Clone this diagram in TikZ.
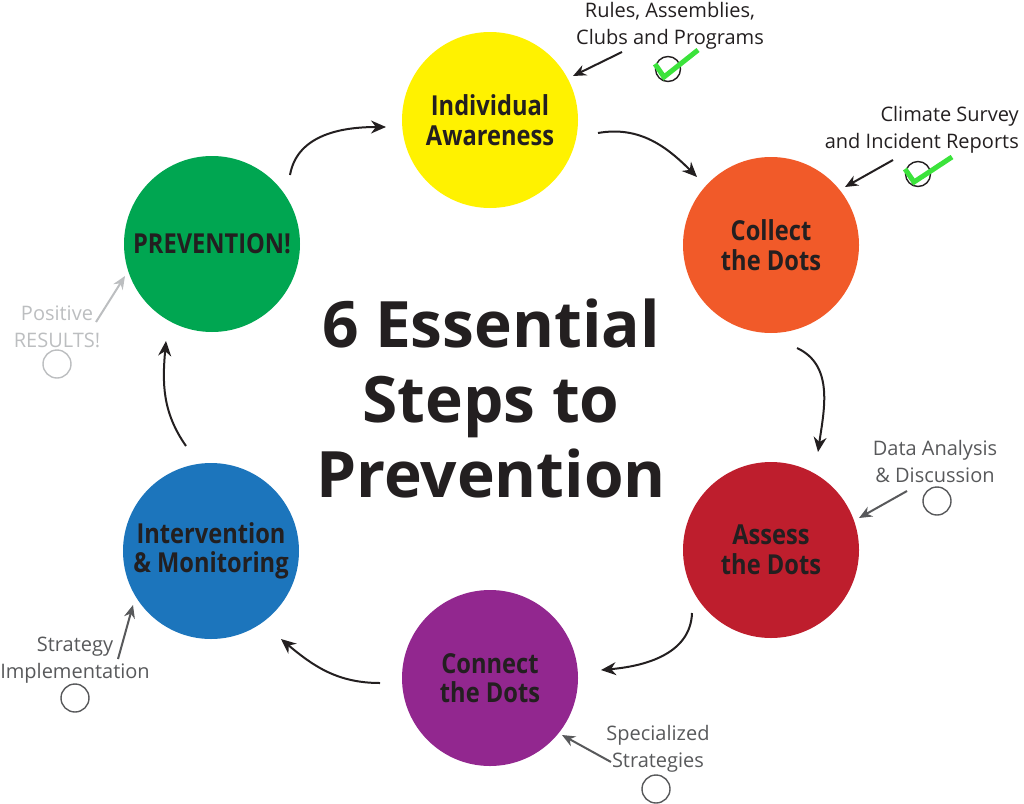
\documentclass[tikz,border=0pt]{standalone}
\usepackage{fontspec}
\setmainfont{Open Sans}
\newfontfamily\condfont{Open Sans}[FakeStretch=0.86]
\usetikzlibrary{arrows.meta}
\definecolor{ink}{HTML}{231F20}
\definecolor{cyellow}{HTML}{FFF200}
\definecolor{corange}{HTML}{F15A29}
\definecolor{cred}{HTML}{BE1E2D}
\definecolor{cpurple}{HTML}{92278F}
\definecolor{cblue}{HTML}{1C75BC}
\definecolor{cgreen}{HTML}{00A651}
\definecolor{midgray}{HTML}{58595B}
\definecolor{lightgray}{HTML}{BCBEC0}
\definecolor{checkgreen}{HTML}{3BE33B}
\tikzset{
  stepcircle/.style={circle, minimum size=176pt, inner sep=0pt, text=ink, align=center,
    font=\condfont\bfseries\fontsize{27.5}{29.5}\selectfont},
  flow/.style={draw=ink, line width=2pt, -{Stealth[length=15pt,width=13pt]}},
  note/.style={align=center, font=\fontsize{20}{27}\selectfont, inner sep=0pt},
  pointer/.style={line width=2pt, -{Stealth[length=13pt,width=11pt]}},
  ring/.style={line width=1.4pt, fill=white},
  tick/.style={draw=checkgreen, line width=5pt, line cap=butt, line join=miter}
}
\begin{document}
\begin{tikzpicture}[x=1pt,y=1pt]
\useasboundingbox (0,0) rectangle (1024,-803);
% step circles
\node[stepcircle, fill=cyellow] (aware) at (490,-120) {Individual\\Awareness};
\node[stepcircle, fill=corange] (collect) at (771,-245) {Collect\\the Dots};
\node[stepcircle, fill=cred] (assess) at (771,-550) {Assess\\the Dots};
\node[stepcircle, fill=cpurple] (connect) at (490,-678) {Connect\\the Dots};
\node[stepcircle, fill=cblue] (interv) at (211,-551) {Intervention\\\& Monitoring};
\node[stepcircle, fill=cgreen] (prev) at (212,-244) {PREVENTION!};
% title
\node[text=ink, align=center, font=\bfseries\fontsize{64}{75}\selectfont] (title) at (491,-398)
  {6 Essential\\Steps to\\Prevention};
% flow arrows
\coordinate (a1s) at (290,-175); \coordinate (a1e) at (386,-127);
\coordinate (a2s) at (598,-133); \coordinate (a2e) at (697,-177);
\coordinate (a3s) at (797,-348); \coordinate (a3e) at (818,-452);
\coordinate (a4s) at (692,-613); \coordinate (a4e) at (601,-670);
\coordinate (a5s) at (380,-683); \coordinate (a5e) at (281,-639);
\coordinate (a6s) at (186,-446); \coordinate (a6e) at (166,-341);
\draw[flow] (a1s) to[out=80,in=180] (a1e);
\draw[flow] (a2s) to[out=10,in=135] (a2e);
\draw[flow] (a3s) to[out=-25,in=82] (a3e);
\draw[flow] (a4s) to[out=-92,in=5] (a4e);
\draw[flow] (a5s) to[out=180,in=-40] (a5e);
\draw[flow] (a6s) to[out=125,in=-95] (a6e);
% annotations
\node[note, text=ink] (rules) at (670,-26) {Rules, Assemblies,\\Clubs and Programs};
\node[note, text=ink, align=right, anchor=east] (climate) at (1019,-130) {Climate Survey\\and Incident Reports};
\node[note, text=midgray] (data) at (935,-461) {Data Analysis\\\& Discussion};
\node[note, text=midgray] (special) at (658,-749) {Specialized\\Strategies};
\node[note, text=midgray] (strat) at (75,-660) {Strategy\\Implementation};
\node[note, text=lightgray] (posit) at (57,-327) {Positive\\RESULTS!};
% pointer arrows
\coordinate (p1s) at (622,-52); \coordinate (p1e) at (573,-76);
\coordinate (p2s) at (893,-160); \coordinate (p2e) at (845,-187);
\coordinate (p3s) at (907,-491); \coordinate (p3e) at (859,-518);
\coordinate (p4s) at (611,-762); \coordinate (p4e) at (562,-735);
\coordinate (p5s) at (118,-659); \coordinate (p5e) at (133,-605);
\coordinate (p6s) at (96,-322); \coordinate (p6e) at (125,-276);
\draw[pointer, draw=ink] (p1s) -- (p1e);
\draw[pointer, draw=ink] (p2s) -- (p2e);
\draw[pointer, draw=midgray] (p3s) -- (p3e);
\draw[pointer, draw=midgray] (p4s) -- (p4e);
\draw[pointer, draw=midgray] (p5s) -- (p5e);
\draw[pointer, draw=lightgray] (p6s) -- (p6e);
% check rings
\draw[ring, draw=ink] (668,-69) circle (12.5);
\draw[ring, draw=ink] (918,-174) circle (12.5);
\draw[ring, draw=midgray] (937,-501) circle (14);
\draw[ring, draw=midgray] (656,-789) circle (14);
\draw[ring, draw=midgray] (75,-698) circle (14);
\draw[ring, draw=lightgray] (57,-364) circle (14);
% check marks
\draw[tick] (655,-64) -- (664,-77) -- (698,-50);
\draw[tick] (905,-169) -- (914,-182) -- (952,-157);
\end{tikzpicture}
\end{document}
